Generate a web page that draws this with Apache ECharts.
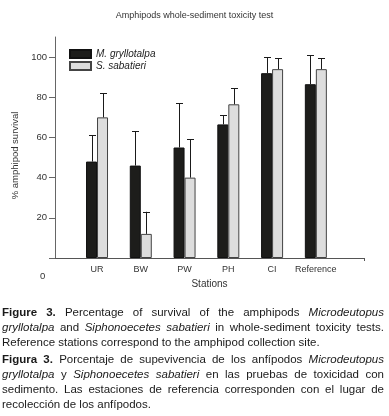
<!DOCTYPE html>
<html>
<head>
<meta charset="utf-8">
<script src="https://cdn.jsdelivr.net/npm/echarts@6/dist/echarts.min.js"></script>
<style>
html, body { margin: 0; padding: 0; background: #fff; }
#chart { position: absolute; left: 0; top: 0; width: 389px; height: 416px; }
.caption {
  position: absolute; left: 2px; top: 305px; width: 382px;
  font-family: 'Liberation Sans', Arial, sans-serif; font-size: 11.5px;
  line-height: 15px; color: #1a1a1a;
}
.caption p { margin: 0 0 2px 0; }
.caption .j { display: block; text-align: justify; text-align-last: justify; }
.caption .l { display: block; }
</style>
</head>
<body>
<div id="chart"></div>
<div class="caption">
  <p>
    <span class="j"><b>Figure 3.</b> Percentage of survival of the amphipods <i>Microdeutopus</i></span>
    <span class="j"><i>gryllotalpa</i> and <i>Siphonoecetes sabatieri</i> in whole-sediment toxicity tests.</span>
    <span class="l">Reference stations correspond to the amphipod collection site.</span>
  </p>
  <p>
    <span class="j"><b>Figura 3.</b> Porcentaje de supevivencia de los anfípodos <i>Microdeutopus</i></span>
    <span class="j"><i>gryllotalpa</i> y <i>Siphonoecetes sabatieri</i> en las pruebas de toxicidad con</span>
    <span class="j">sedimento. Las estaciones de referencia corresponden con el lugar de</span>
    <span class="l">recolección de los anfípodos.</span>
  </p>
</div>
<script>
// stations and survival (%)
var stations = ['UR', 'BW', 'PW', 'PH', 'CI', 'Reference'];
var speciesNames = ['M. gryllotalpa', 'S. sabatieri'];
var gryllotalpa = [48, 46, 55, 66.5, 92, 86.5];
var gryllotalpaSD = [13, 17, 22, 4.5, 8, 14.5];
var sabatieri = [70, 12, 40, 76.5, 94, 94];
var sabatieriSD = [12, 11, 19, 8, 5.5, 5.5];
var yTickLabels = [20, 40, 60, 80, 100];
var yTicks = [0, 20, 40, 60, 80, 100];

var BAR_W = 11;

function barData(vals) {
  return vals.map(function (v, i) { return [i + 1, v]; });
}
function errData(vals, sd) {
  return vals.map(function (v, i) { return [i + 1, v, v + sd[i]]; });
}
function errorBars(offset) {
  return function (params, api) {
    var lo = api.coord([api.value(0), api.value(1)]);
    var hi = api.coord([api.value(0), api.value(2)]);
    var x = Math.round(lo[0] + offset) + 0.5;
    var style = { stroke: '#1a1a1a', lineWidth: 1 };
    return {
      type: 'group',
      children: [
        { type: 'line', shape: { x1: x, y1: lo[1], x2: x, y2: hi[1] }, style: style },
        { type: 'line', shape: { x1: x - 3.5, y1: Math.round(hi[1]) + 0.5, x2: x + 3.5, y2: Math.round(hi[1]) + 0.5 }, style: style }
      ]
    };
  };
}

var chart = echarts.init(document.getElementById('chart'));
chart.setOption({
  animation: false,
  textStyle: { fontFamily: "'Liberation Sans', Arial, sans-serif", color: '#333' },
  title: {
    text: 'Amphipods whole-sediment toxicity test',
    left: 'center',
    top: 6,
    textStyle: { fontSize: 9, fontWeight: 'normal', color: '#333' }
  },
  legend: {
    data: speciesNames,
    orient: 'vertical',
    left: 69,
    top: 49,
    padding: 0,
    itemGap: 2,
    itemWidth: 21,
    itemHeight: 8,
    icon: 'rect',
    textStyle: { fontSize: 10, fontStyle: 'italic', color: '#222' }
  },
  grid: { left: 55, right: 25, top: 37, bottom: 158 },
  xAxis: {
    type: 'value',
    min: 0.04,
    max: 7.1,
    name: 'Stations',
    nameLocation: 'middle',
    nameGap: 21,
    nameTextStyle: { fontSize: 10, color: '#333' },
    splitLine: { show: false },
    axisLine: { lineStyle: { color: '#555' } },
    axisTick: { show: true, customValues: [7.1], length: 3, lineStyle: { color: '#555' } },
    axisLabel: {
      customValues: [1, 2, 3, 4, 5, 6],
      formatter: function (v) { return stations[Math.round(v) - 1] || ''; },
      fontSize: 9,
      margin: 7,
      color: '#333'
    }
  },
  yAxis: {
    type: 'value',
    min: 0,
    max: 110,
    name: '% amphipod survival',
    nameLocation: 'middle',
    nameRotate: 90,
    nameGap: 31,
    nameTextStyle: { fontSize: 9.5, color: '#333', padding: [0, 16, 0, 0] },
    splitLine: { show: false },
    axisLine: { show: true, lineStyle: { color: '#666' } },
    axisTick: { show: true, customValues: yTicks, length: 6, lineStyle: { color: '#666' } },
    axisLabel: { customValues: yTickLabels, fontSize: 9.5, margin: 8, color: '#333' }
  },
  graphic: [{
    type: 'text',
    left: 40,
    top: 271,
    style: { text: '0', fontSize: 9.5, fill: '#333', fontFamily: "'Liberation Sans', Arial, sans-serif" }
  }],
  series: [
    {
      name: speciesNames[0],
      type: 'bar',
      barWidth: BAR_W,
      barGap: '0%',
      itemStyle: { color: '#1d1d1b', borderColor: '#111', borderWidth: 1 },
      data: barData(gryllotalpa)
    },
    {
      name: speciesNames[1],
      type: 'bar',
      barWidth: BAR_W,
      barGap: '0%',
      itemStyle: { color: '#dddddd', borderColor: '#444', borderWidth: 1 },
      data: barData(sabatieri)
    },
    {
      type: 'custom',
      renderItem: errorBars(-BAR_W / 2),
      encode: { x: 0, y: [1, 2] },
      z: 5,
      data: errData(gryllotalpa, gryllotalpaSD)
    },
    {
      type: 'custom',
      renderItem: errorBars(BAR_W / 2),
      encode: { x: 0, y: [1, 2] },
      z: 5,
      data: errData(sabatieri, sabatieriSD)
    }
  ]
});
</script>
</body>
</html>
